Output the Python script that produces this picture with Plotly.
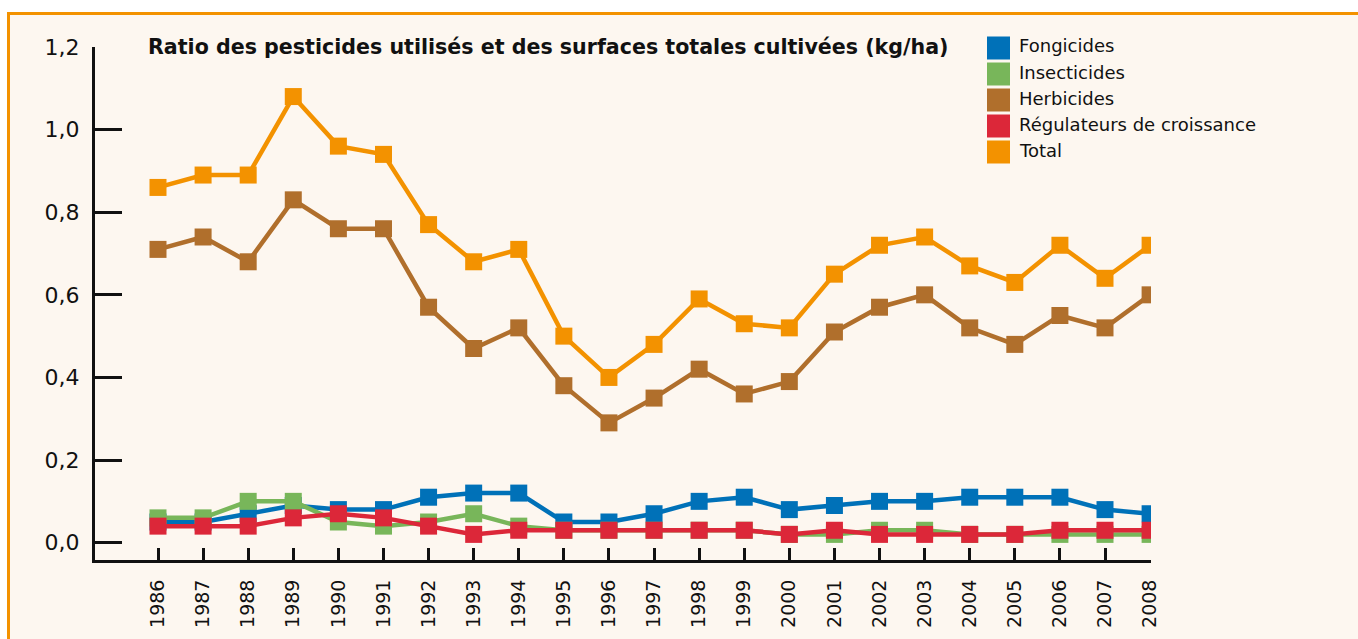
import plotly.graph_objects as go

years = list(range(1986, 2009))
fongicides = [0.05, 0.05, 0.07, 0.09, 0.08, 0.08, 0.11, 0.12, 0.12, 0.05, 0.05, 0.07,
              0.10, 0.11, 0.08, 0.09, 0.10, 0.10, 0.11, 0.11, 0.11, 0.08, 0.07]
insecticides = [0.06, 0.06, 0.10, 0.10, 0.05, 0.04, 0.05, 0.07, 0.04, 0.03, 0.03, 0.03,
                0.03, 0.03, 0.02, 0.02, 0.03, 0.03, 0.02, 0.02, 0.02, 0.02, 0.02]
herbicides = [0.71, 0.74, 0.68, 0.83, 0.76, 0.76, 0.57, 0.47, 0.52, 0.38, 0.29, 0.35,
              0.42, 0.36, 0.39, 0.51, 0.57, 0.60, 0.52, 0.48, 0.55, 0.52, 0.60]
regulateurs = [0.04, 0.04, 0.04, 0.06, 0.07, 0.06, 0.04, 0.02, 0.03, 0.03, 0.03, 0.03,
               0.03, 0.03, 0.02, 0.03, 0.02, 0.02, 0.02, 0.02, 0.03, 0.03, 0.03]
total = [0.86, 0.89, 0.89, 1.08, 0.96, 0.94, 0.77, 0.68, 0.71, 0.50, 0.40, 0.48,
         0.59, 0.53, 0.52, 0.65, 0.72, 0.74, 0.67, 0.63, 0.72, 0.64, 0.72]

series_names = ["Fongicides", "Insecticides", "Herbicides", "Régulateurs de croissance", "Total"]
series_values = [fongicides, insecticides, herbicides, regulateurs, total]
series_colors = ["#0071b8", "#78b65a", "#b06f2c", "#dc2739", "#f39200"]

y_tickvals = [0.0, 0.2, 0.4, 0.6, 0.8, 1.0, 1.2]
y_ticktext = ["0,0", "0,2", "0,4", "0,6", "0,8", "1,0", "1,2"]
title_text = "Ratio des pesticides utilisés et des surfaces totales cultivées (kg/ha)"

W, H = 1358, 639
PL, PT, PW, PH = 95, 47, 1056, 513  # plot area in page pixels
L, T = PL, PT
R, B = W - L - PW, H - T - PH


def px_x(p):
    return (p - PL) / PW


def px_y(p):
    return (PT + PH - p) / PH


fig = go.Figure()
for name, vals, col in zip(series_names, series_values, series_colors):
    fig.add_trace(go.Scatter(
        x=years, y=vals, name=name, mode="lines+markers",
        line=dict(color=col, width=4.5),
        marker=dict(symbol="square", size=17, color=col),
        showlegend=False,
    ))

shapes = [
    dict(type="rect", xref="paper", yref="paper", layer="below",
         x0=px_x(8.5), x1=px_x(1420), y0=px_y(720), y1=px_y(13.5),
         fillcolor="#fdf7f0", line=dict(color="#f39200", width=3)),
]
annotations = [
    dict(text="<b>" + title_text + "</b>", xref="paper", yref="paper",
         x=px_x(146), y=px_y(47), xanchor="left", yanchor="middle", showarrow=False,
         font=dict(family="DejaVu Sans", size=20.6, color="#111111")),
]
leg_y = [48, 74, 100, 126, 152]
for name, col, cy in zip(series_names, series_colors, leg_y):
    shapes.append(dict(type="rect", xref="paper", yref="paper",
                       x0=px_x(987), x1=px_x(1010), y0=px_y(cy + 11.5), y1=px_y(cy - 11.5),
                       fillcolor=col, line=dict(width=0)))
    annotations.append(dict(text=name, xref="paper", yref="paper",
                            x=px_x(1017), y=px_y(cy - 2), xanchor="left", yanchor="middle",
                            showarrow=False,
                            font=dict(family="DejaVu Sans", size=18, color="#111111")))

fig.update_layout(
    width=W, height=H,
    margin=dict(l=L, r=R, t=T, b=B, pad=0),
    paper_bgcolor="#ffffff",
    plot_bgcolor="rgba(0,0,0,0)",
    shapes=shapes,
    annotations=annotations,
    showlegend=False,
    hovermode=False,
    xaxis=dict(
        range=[1984.603, 2008.02], tickvals=years, ticktext=[str(y) for y in years],
        tickangle=-90, ticks="inside", ticklen=12, tickwidth=3, tickcolor="#111111",
        showline=True, linewidth=3, linecolor="#111111", showgrid=False, zeroline=False,
        tickfont=dict(family="DejaVu Sans", size=19, color="#111111"),
        ticklabelstandoff=9,
    ),
    yaxis=dict(
        range=[-0.042, 1.2], tickvals=y_tickvals, ticktext=y_ticktext,
        ticks="inside", ticklen=27, tickwidth=3, tickcolor="#111111",
        showline=True, linewidth=3, linecolor="#111111", showgrid=False, zeroline=False,
        tickfont=dict(family="DejaVu Sans", size=22, color="#111111"),
        ticklabelstandoff=8,
    ),
)

fig.write_html(
    "out.html",
    config={"displayModeBar": False},
    post_script="document.body.style.margin='0px';document.body.style.overflow='hidden';",
)
